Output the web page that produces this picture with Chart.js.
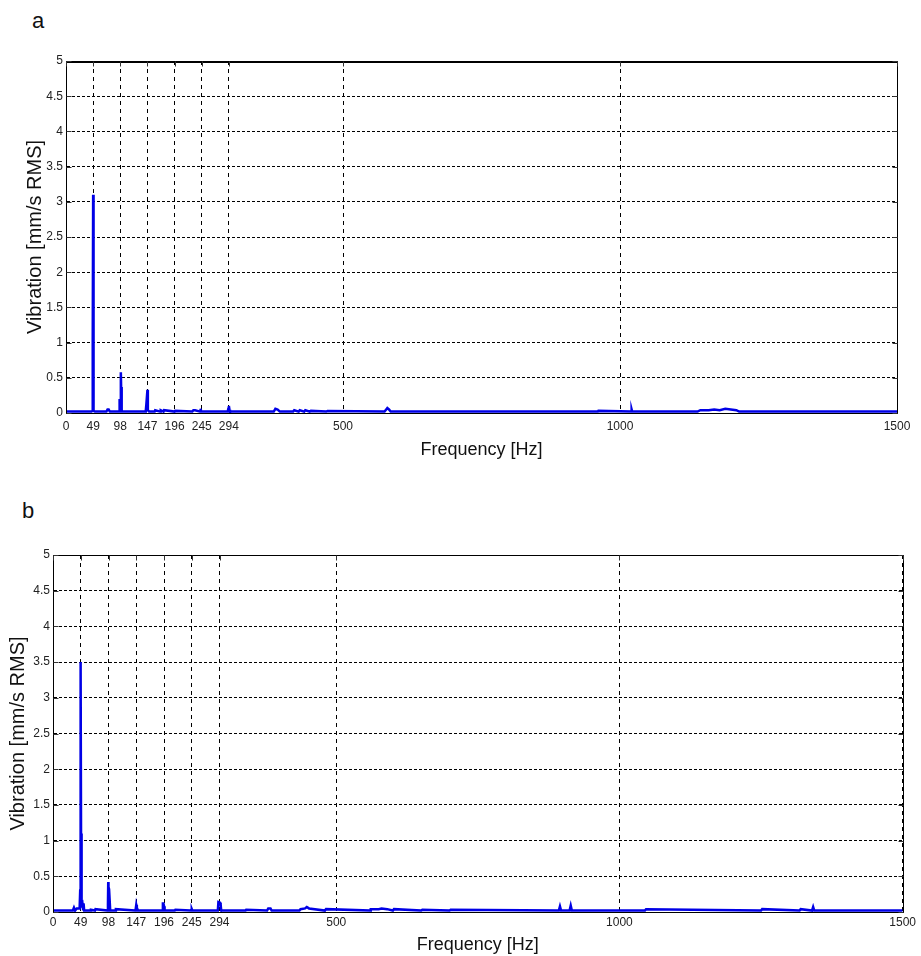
<!DOCTYPE html>
<html>
<head>
<meta charset="utf-8">
<script src="https://cdn.jsdelivr.net/npm/chart.js@4.4.1/dist/chart.umd.min.js"></script>
<style>
  body { margin: 0; background: #fff; width: 921px; height: 956px; overflow: hidden; position: relative; }
  .panel { position: absolute; left: 0; width: 921px; }
  .letter { position: absolute; font-family: "Liberation Sans", Arial, sans-serif; font-size: 22px; color: #111; }
</style>
</head>
<body>
<div class="letter" style="left:32px; top:8px;">a</div>
<div class="letter" style="left:22px; top:498px;">b</div>
<div class="panel" style="top:0; height:470px;"><canvas id="chart_a"></canvas></div>
<div class="panel" style="top:478px; height:478px;"><canvas id="chart_b"></canvas></div>
<script>
// x tick positions (Hz) and y ticks
const ticks_x = [0, 49, 98, 147, 196, 245, 294, 500, 1000, 1500];
const y_max = 5;

// spectrum a
const freq_a = [0, 20, 46, 47.5, 48, 48.5, 49, 49.5, 50, 52, 73, 75, 77, 79, 96, 96.5, 97, 98, 99, 99.5, 100, 101,
  143, 144, 145, 146, 147, 147.5, 148, 150, 160, 161, 170, 171, 176, 177, 196, 197, 228, 230, 233, 242, 243, 244,
  292, 293, 294, 295, 296, 375, 378, 382, 386, 410, 412, 420, 422, 430, 432, 440, 442, 470, 472,
  575, 578, 580, 583, 586, 960, 961, 1020, 1021, 1022, 1140, 1145, 1160, 1170, 1180, 1190, 1200, 1210, 1215, 1500];
const amp_a = [0.02, 0.02, 0.02, 0.03, 0.22, 1.0, 3.1, 0.22, 0.03, 0.02, 0.02, 0.05, 0.05, 0.02, 0.02, 0.2, 0.2, 0.05, 0.58, 0.37, 0.03, 0.02,
  0.02, 0.03, 0.12, 0.12, 0.33, 0.31, 0.04, 0.02, 0.02, 0.04, 0.02, 0.04, 0.02, 0.04, 0.02, 0.03, 0.02, 0.04, 0.04, 0.02, 0.06, 0.02,
  0.02, 0.06, 0.1, 0.05, 0.02, 0.02, 0.06, 0.05, 0.02, 0.02, 0.04, 0.02, 0.04, 0.02, 0.04, 0.02, 0.03, 0.02, 0.03,
  0.02, 0.05, 0.07, 0.05, 0.02, 0.02, 0.03, 0.02, 0.05, 0.02, 0.02, 0.04, 0.04, 0.05, 0.04, 0.06, 0.05, 0.04, 0.02, 0.02];

// spectrum b
const freq_b = [0, 30, 35, 37, 39, 42, 47, 48, 48.5, 49, 49.5, 50, 51, 52, 53, 54, 55, 66, 67, 74, 75, 96, 97, 97.5, 98, 99, 100, 101, 110, 111,
  145, 146, 147, 148, 150, 193, 194, 195, 196, 197, 215, 216, 243, 244, 245, 246, 291, 292, 293, 295, 296, 297,
  340, 341, 378, 380, 384, 386, 435, 437, 445, 448, 452, 480, 482, 560, 561, 575, 580, 590, 600, 602, 650, 652,
  700, 702, 893, 895, 897, 912, 914, 916, 1045, 1047, 1250, 1252, 1318, 1320, 1340, 1342, 1344, 1500];
const amp_b = [0.02, 0.02, 0.02, 0.06, 0.02, 0.05, 0.05, 0.3, 1.12, 3.5, 1.1, 0.18, 0.1, 0.12, 0.04, 0.12, 0.02, 0.02, 0.03, 0.02, 0.04, 0.02, 0.1, 0.42, 0.35, 0.32, 0.32, 0.02, 0.02, 0.04,
  0.02, 0.04, 0.1, 0.06, 0.02, 0.02, 0.12, 0.12, 0.08, 0.02, 0.02, 0.03, 0.02, 0.03, 0.04, 0.02, 0.02, 0.14, 0.14, 0.13, 0.1, 0.02,
  0.02, 0.03, 0.02, 0.05, 0.05, 0.02, 0.02, 0.04, 0.05, 0.07, 0.05, 0.02, 0.04, 0.02, 0.04, 0.04, 0.05, 0.04, 0.02, 0.04, 0.02, 0.03,
  0.02, 0.03, 0.02, 0.08, 0.02, 0.02, 0.09, 0.02, 0.02, 0.04, 0.02, 0.04, 0.02, 0.04, 0.02, 0.07, 0.02, 0.02];

const fuente_ticks = { family: "'Liberation Sans', Arial, sans-serif", size: 12, lineHeight: 1 };

// marco negro y marcas de tick hacia adentro (estilo MATLAB)
const plugin_marco = {
  id: "marco",
  afterDraw: (chart, args, opts) => {
    const a = chart.chartArea;
    const ctx = chart.ctx;
    const l = Math.round(a.left) + 0.5, t = Math.round(a.top) + 0.5;
    const r = Math.round(a.right) + 0.5, b = Math.round(a.bottom) + 0.5;
    ctx.save();
    ctx.setLineDash([]);
    ctx.strokeStyle = "#000";
    ctx.lineWidth = 1;
    ctx.strokeRect(l, t, r - l, b - t);
    if (opts.topWidth > 1) {
      ctx.lineWidth = opts.topWidth;
      ctx.beginPath();
      ctx.moveTo(l, t + 0.5);
      ctx.lineTo(r, t + 0.5);
      ctx.stroke();
    }
    ctx.lineWidth = 1;
    ctx.strokeStyle = "#333";
    ctx.beginPath();
    chart.scales.x.ticks.forEach((tk) => {
      const px = Math.round(chart.scales.x.getPixelForValue(tk.value)) + 0.5;
      ctx.moveTo(px, t);
      ctx.lineTo(px, t + 5);
    });
    chart.scales.y.ticks.forEach((tk) => {
      const py = Math.round(chart.scales.y.getPixelForValue(tk.value)) + 0.5;
      ctx.moveTo(l, py);
      ctx.lineTo(l + 5, py);
      ctx.moveTo(r, py);
      ctx.lineTo(r - 5, py);
    });
    ctx.stroke();
    ctx.restore();
  },
};

function crear_grafico(id, freq, amp, cfg) {
  const puntos = freq.map((f, i) => ({ x: f, y: amp[i] }));
  const ctx = document.getElementById(id).getContext("2d");
  return new Chart(ctx, {
    type: "line",
    data: {
      datasets: [
        {
          data: puntos,
          borderColor: "#0000e6",
          borderWidth: 2.5,
          pointRadius: 0,
          tension: 0,
        },
      ],
    },
    options: {
      responsive: true,
      maintainAspectRatio: false,
      animation: false,
      layout: { padding: { left: 0, top: cfg.top, right: cfg.right, bottom: 0 } },
      plugins: { legend: { display: false }, tooltip: { enabled: false }, marco: { topWidth: cfg.topWidth } },
      scales: {
        x: {
          type: "linear",
          min: 0,
          max: 1500,
          afterBuildTicks: (axis) => {
            axis.ticks = ticks_x.map((v) => ({ value: v }));
          },
          afterFit: (axis) => {
            axis.height = cfg.xHeight;
          },
          ticks: {
            autoSkip: false,
            maxRotation: 0,
            padding: cfg.xTickPad,
            color: "#222",
            font: fuente_ticks,
            callback: (v) => String(v),
          },
          grid: { color: "#000", lineWidth: 1, drawTicks: false },
          border: { display: true, color: "#000", dash: [4, 4] },
          title: {
            display: true,
            text: "Frequency [Hz]",
            color: "#111",
            font: { family: "'Liberation Sans', Arial, sans-serif", size: 18, lineHeight: 1 },
            padding: { top: 0, bottom: cfg.xTitlePad },
          },
        },
        y: {
          min: 0,
          max: y_max,
          afterFit: (axis) => {
            axis.width = cfg.yWidth;
          },
          ticks: { stepSize: 0.5, padding: 3, color: "#222", font: fuente_ticks, callback: (v) => String(v) },
          grid: { color: "#000", lineWidth: 1, drawTicks: false },
          border: { display: true, color: "#000", dash: [3, 2] },
          title: {
            display: true,
            text: "Vibration [mm/s RMS]",
            color: "#111",
            font: { family: "'Liberation Sans', Arial, sans-serif", size: 20, lineHeight: 1 },
            padding: { top: cfg.yTitlePad, bottom: 0 },
          },
        },
      },
    },
    plugins: [plugin_marco],
  });
}

const chart_a = crear_grafico("chart_a", freq_a, amp_a, { top: 61, right: 24, yWidth: 66, xHeight: 57, xTickPad: 8, xTitlePad: 11, yTitlePad: 25, topWidth: 2 });
const chart_b = crear_grafico("chart_b", freq_b, amp_b, { top: 77, right: 13, yWidth: 53, xHeight: 44, xTickPad: 5, xTitlePad: 2, yTitlePad: 8, topWidth: 1 });
</script>
</body>
</html>
